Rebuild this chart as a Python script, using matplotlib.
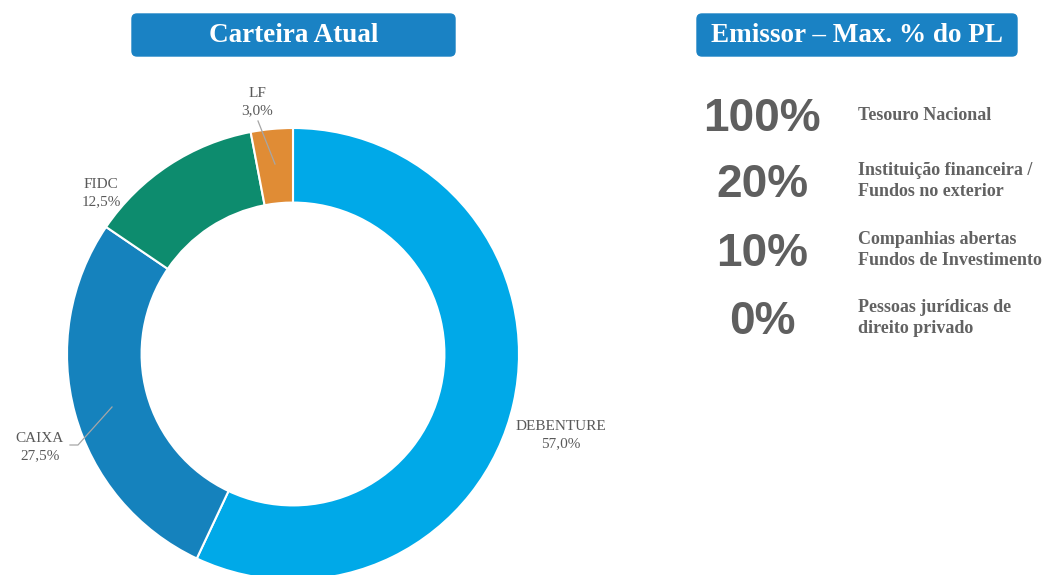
import matplotlib.pyplot as plt
from matplotlib.patches import FancyBboxPatch

# data
categorias = ["DEBENTURE", "CAIXA", "FIDC", "LF"]
valores = [57.0, 27.5, 12.5, 3.0]
cores = ["#00A9E8", "#1582BD", "#0D8C6E", "#E08C35"]

limites = ["100%", "20%", "10%", "0%"]
emissores = ["Tesouro Nacional",
             "Instituição financeira /\nFundos no exterior",
             "Companhias abertas\nFundos de Investimento",
             "Pessoas jurídicas de\ndireito privado"]

W, H = 1051, 575
serif = ["Liberation Serif", "DejaVu Serif"]
cinza = "#595959"

fig = plt.figure(figsize=(W / 100, H / 100), dpi=100)
ax = fig.add_axes([0, 0, 1, 1])


def y(py):
    return H - py


cx, cy, r = 293, y(354), 226
ax.pie(valores, colors=cores, startangle=90, counterclock=False,
       center=(cx, cy), radius=r,
       wedgeprops=dict(width=r * 0.33, edgecolor="white", linewidth=1.5))
ax.set_xlim(0, W)
ax.set_ylim(0, H)
ax.set_aspect("equal")
ax.axis("off")

# rótulos do donut (posição em pixels)
pos_rot = {"DEBENTURE": (561, 435), "CAIXA": (40, 447),
           "FIDC": (101, 193), "LF": (257, 102)}
for nome, v in zip(categorias, valores):
    px, py = pos_rot[nome]
    txt = "%s\n%s%%" % (nome, ("%.1f" % v).replace(".", ","))
    ax.text(px, y(py), txt, ha="center", va="center", fontsize=11,
            color=cinza, family=serif, linespacing=1.4)

# linhas guia
ax.plot([70, 78, 112], [y(445), y(445), y(407)], color="#A6A6A6", lw=0.9)
ax.plot([258, 275], [y(121), y(164)], color="#A6A6A6", lw=0.9)

# caixas de título
for x0, x1, t in [(132, 455, "Carteira Atual"),
                  (697, 1017, "Emissor – Max. % do PL")]:
    box = FancyBboxPatch((x0 + 5, y(56) + 5), x1 - x0 - 10, 42 - 10,
                         boxstyle="round,pad=5", fc="#1A82C4", ec="#1A82C4")
    ax.add_patch(box)
    ax.text((x0 + x1) / 2, y(35), t, ha="center", va="center",
            fontsize=19.5, fontweight="bold", color="white", family=serif)

# limites por emissor
ys_lim = [119, 185, 254, 322]
for lim, em, py in zip(limites, emissores, ys_lim):
    ax.text(762, y(py), lim, ha="center", va="center", fontsize=33,
            fontweight="bold", color="#5F5F5F", family="Liberation Sans")
    ax.text(858, y(py - 4), em, ha="left", va="center", fontsize=13,
            fontweight="bold", color="#626262", family=serif,
            linespacing=1.3)

fig.savefig("out.png", dpi=100)
